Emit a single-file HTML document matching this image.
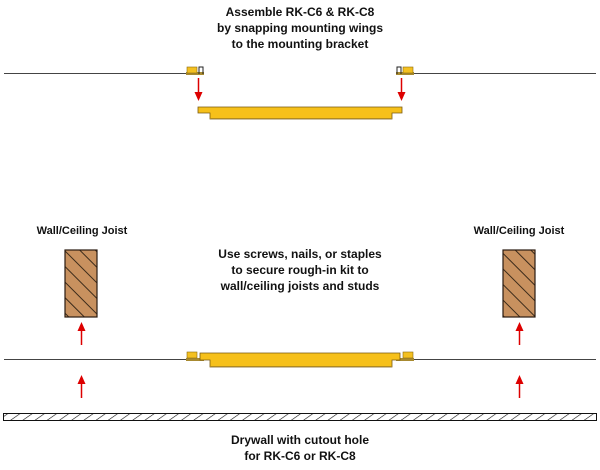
<!DOCTYPE html>
<html><head><style>
body{margin:0;background:#fff}
svg text{font-family:"Liberation Sans",Arial,sans-serif;font-weight:bold;font-size:12px;fill:#111;text-anchor:middle}
</style></head><body>
<svg width="600" height="465" viewBox="0 0 600 465" xmlns="http://www.w3.org/2000/svg">
<defs>
<pattern id="wood" width="11" height="11" patternUnits="userSpaceOnUse" patternTransform="rotate(-45)">
<rect width="11" height="11" fill="#c8915f"/><line x1="0" y1="0" x2="0" y2="11" stroke="#3a2a1a" stroke-width="2"/>
</pattern>
<pattern id="dry" width="7" height="7" patternUnits="userSpaceOnUse" patternTransform="rotate(55)">
<line x1="0" y1="0" x2="0" y2="7" stroke="#111" stroke-width="1.2"/>
</pattern>
</defs>
<text x="300" y="16">Assemble RK-C6 &amp; RK-C8</text>
<text x="300" y="32">by snapping mounting wings</text>
<text x="300" y="48">to the mounting bracket</text>

<line x1="4" y1="73.5" x2="188" y2="73.5" stroke="#444"/>
<line x1="414" y1="73.5" x2="596" y2="73.5" stroke="#444"/>
<rect x="186" y="72" width="18" height="3" fill="#a88a30"/>
<rect x="187" y="67" width="10" height="6" fill="#f4c020" stroke="#8a6a10" stroke-width="0.6"/>
<path d="M199 74 V67 H203 V74" fill="none" stroke="#222" stroke-width="1"/>
<rect x="396" y="72" width="18" height="3" fill="#a88a30"/>
<rect x="403" y="67" width="10" height="6" fill="#f4c020" stroke="#8a6a10" stroke-width="0.6"/>
<path d="M397 74 V67 H401 V74" fill="none" stroke="#222" stroke-width="1"/>

<g stroke="#d00" stroke-width="1.5">
<line x1="198.5" y1="78" x2="198.5" y2="94"/>
<line x1="401.5" y1="78" x2="401.5" y2="94"/>
<line x1="81.5" y1="345" x2="81.5" y2="328"/>
<line x1="519.5" y1="345" x2="519.5" y2="328"/>
<line x1="81.5" y1="398" x2="81.5" y2="381"/>
<line x1="519.5" y1="398" x2="519.5" y2="381"/>
</g>
<g fill="#d00">
<polygon points="194.5,92 202.5,92 198.5,101"/>
<polygon points="397.5,92 405.5,92 401.5,101"/>
<polygon points="77.5,331 85.5,331 81.5,322"/>
<polygon points="515.5,331 523.5,331 519.5,322"/>
<polygon points="77.5,384 85.5,384 81.5,375"/>
<polygon points="515.5,384 523.5,384 519.5,375"/>
</g>

<path d="M198 107 H402 V113 H392 V119 H210 V113 H198 Z" fill="#f6c01a" stroke="#7a5a10" stroke-width="0.8"/>
<line x1="210" y1="118.5" x2="392" y2="118.5" stroke="#b08a20"/>

<text x="82" y="234" style="font-size:11px">Wall/Ceiling Joist</text>
<text x="519" y="234" style="font-size:11px">Wall/Ceiling Joist</text>
<rect x="65" y="250" width="32" height="67" fill="url(#wood)" stroke="#2a1a10" stroke-width="1.2"/>
<rect x="503" y="250" width="32" height="67" fill="url(#wood)" stroke="#2a1a10" stroke-width="1.2"/>

<text x="300" y="258">Use screws, nails, or staples</text>
<text x="300" y="274">to secure rough-in kit to</text>
<text x="300" y="290">wall/ceiling joists and studs</text>

<line x1="4" y1="359.5" x2="186" y2="359.5" stroke="#444"/>
<line x1="414" y1="359.5" x2="596" y2="359.5" stroke="#444"/>
<rect x="186" y="358" width="18" height="3" fill="#a88a30"/>
<rect x="187" y="352" width="10" height="6" fill="#f4c020" stroke="#8a6a10" stroke-width="0.6"/>
<rect x="396" y="358" width="18" height="3" fill="#a88a30"/>
<rect x="403" y="352" width="10" height="6" fill="#f4c020" stroke="#8a6a10" stroke-width="0.6"/>
<path d="M200 353 H400 V360 H392 V367 H210 V360 H200 Z" fill="#f6c01a" stroke="#7a5a10" stroke-width="0.8"/>
<line x1="210" y1="366.5" x2="392" y2="366.5" stroke="#b08a20"/>

<rect x="3.5" y="413.5" width="593" height="7" fill="url(#dry)" stroke="#111" stroke-width="1"/>
<text x="300" y="444">Drywall with cutout hole</text>
<text x="300" y="460">for RK-C6 or RK-C8</text>
</svg>
</body></html>
